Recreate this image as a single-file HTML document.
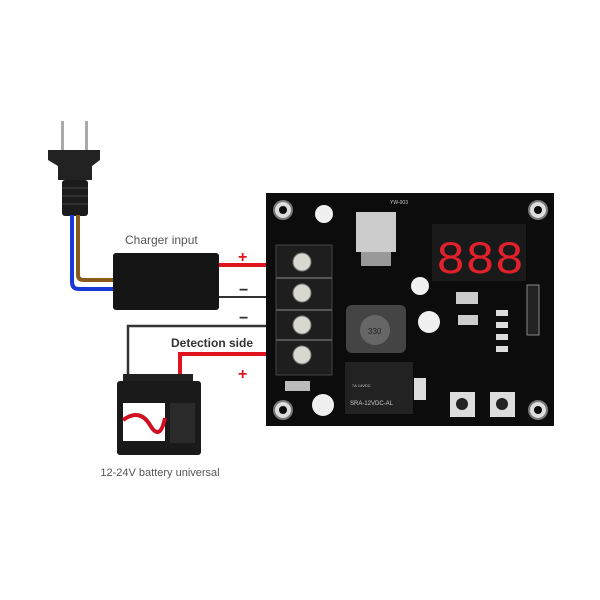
<!DOCTYPE html>
<html><head><style>
html,body{margin:0;padding:0;background:#fff;}
svg{display:block;font-family:"Liberation Sans",sans-serif;}
</style></head><body>
<svg width="600" height="600" viewBox="0 0 600 600">
<rect width="600" height="600" fill="#fff"/>
<!-- plug -->
<rect x="61" y="121" width="3" height="30" fill="#aaa"/>
<rect x="85" y="121" width="3" height="30" fill="#aaa"/>
<path d="M48 150 H100 V160 L92 166 V180 H58 V166 L48 160Z" fill="#222"/>
<rect x="62" y="180" width="26" height="36" rx="3" fill="#1b1b1b"/>
<g stroke="#444" stroke-width="1"><line x1="62" y1="188" x2="88" y2="188"/><line x1="62" y1="196" x2="88" y2="196"/><line x1="62" y1="204" x2="88" y2="204"/></g>
<!-- wires -->
<path d="M72 215 V282 Q72 289 79 289 H116" stroke="#1a3ad8" stroke-width="4" fill="none"/>
<path d="M78 215 V275 Q78 280 84 280 H116" stroke="#8a5a1a" stroke-width="4" fill="none"/>
<!-- charger -->
<rect x="113" y="253" width="106" height="57" rx="3" fill="#151515"/>
<text x="125" y="244" font-size="12" fill="#555">Charger input</text>
<!-- connection lines -->
<line x1="219" y1="265" x2="300" y2="265" stroke="#e0141e" stroke-width="4"/>
<line x1="219" y1="297" x2="300" y2="297" stroke="#333" stroke-width="2"/>
<path d="M128 382 V326 H300" stroke="#333" stroke-width="2.5" fill="none"/>
<path d="M180 386 V354 H300" stroke="#e0141e" stroke-width="4" fill="none"/>
<text x="238" y="262" font-size="16" font-weight="bold" fill="#e0141e">+</text>
<text x="239" y="295" font-size="16" font-weight="bold" fill="#333">−</text>
<text x="239" y="323" font-size="16" font-weight="bold" fill="#333">−</text>
<text x="238" y="379" font-size="16" font-weight="bold" fill="#e0141e">+</text>
<text x="171" y="347" font-size="12" font-weight="bold" fill="#333">Detection side</text>
<!-- battery -->
<rect x="123" y="374" width="70" height="8" fill="#222"/>
<rect x="117" y="381" width="84" height="74" rx="3" fill="#1a1a1a"/>
<rect x="123" y="403" width="42" height="38" fill="#fff"/>
<path d="M123 420 Q140 408 150 425 T165 418" stroke="#d01020" stroke-width="4" fill="none"/>
<rect x="170" y="403" width="25" height="40" fill="#2a2a2a"/>
<text x="160" y="476" font-size="11" fill="#555" text-anchor="middle">12-24V battery universal</text>
<!-- board -->
<rect x="266" y="193" width="288" height="233" fill="#0c0c0c"/>
<g fill="#ddd" stroke="#777" stroke-width="2">
<circle cx="283" cy="210" r="9"/><circle cx="538" cy="210" r="9"/>
<circle cx="283" cy="410" r="9"/><circle cx="538" cy="410" r="9"/>
</g>
<g fill="#0c0c0c"><circle cx="283" cy="210" r="4"/><circle cx="538" cy="210" r="4"/><circle cx="283" cy="410" r="4"/><circle cx="538" cy="410" r="4"/></g>
<!-- terminal block -->
<rect x="276" y="245" width="56" height="130" fill="#1e1e1e" stroke="#444"/>
<g fill="#d8d8d0" stroke="#777">
<circle cx="302" cy="262" r="9"/><circle cx="302" cy="293" r="9"/><circle cx="302" cy="325" r="9"/><circle cx="302" cy="355" r="9"/>
</g>
<g stroke="#555" stroke-width="2"><line x1="276" y1="278" x2="332" y2="278"/><line x1="276" y1="310" x2="332" y2="310"/><line x1="276" y1="340" x2="332" y2="340"/></g>
<!-- caps -->
<g fill="#f0f0f0"><circle cx="324" cy="214" r="9"/><circle cx="420" cy="286" r="9"/><circle cx="429" cy="322" r="11"/><circle cx="323" cy="405" r="11"/></g>
<!-- regulator -->
<rect x="356" y="212" width="40" height="40" fill="#ccc"/>
<rect x="361" y="252" width="30" height="14" fill="#999"/>
<text x="390" y="204" font-size="5" fill="#ccc">YW-003</text>
<!-- inductor -->
<rect x="346" y="305" width="60" height="48" rx="6" fill="#444"/>
<circle cx="375" cy="330" r="15" fill="#666"/>
<text x="368" y="334" font-size="8" fill="#222">330</text>
<!-- relay -->
<rect x="345" y="362" width="68" height="52" fill="#222"/>
<text x="350" y="405" font-size="6" fill="#ccc">SRA-12VDC-AL</text>
<text x="352" y="387" font-size="4" fill="#ccc">7A 14VDC</text>
<!-- display -->
<rect x="432" y="224" width="94" height="57" fill="#1a1a1a"/>
<text x="436" y="273" font-size="46" font-family="Liberation Mono,monospace" fill="#e0202a" textLength="88" lengthAdjust="spacingAndGlyphs">888</text>
<!-- small parts -->
<rect x="456" y="292" width="22" height="12" fill="#ccc"/>
<rect x="458" y="315" width="20" height="10" fill="#ccc"/>
<rect x="527" y="285" width="12" height="50" fill="#222" stroke="#888"/>
<g fill="#ddd"><rect x="496" y="310" width="12" height="6"/><rect x="496" y="322" width="12" height="6"/><rect x="496" y="334" width="12" height="6"/><rect x="496" y="346" width="12" height="6"/></g>
<g fill="#ddd"><rect x="450" y="392" width="25" height="25"/><rect x="490" y="392" width="25" height="25"/></g>
<g fill="#222"><circle cx="462" cy="404" r="6"/><circle cx="502" cy="404" r="6"/></g>
<rect x="414" y="378" width="12" height="22" fill="#ddd"/>
<rect x="285" y="381" width="25" height="10" fill="#bbb"/>
</svg>
</body></html>
